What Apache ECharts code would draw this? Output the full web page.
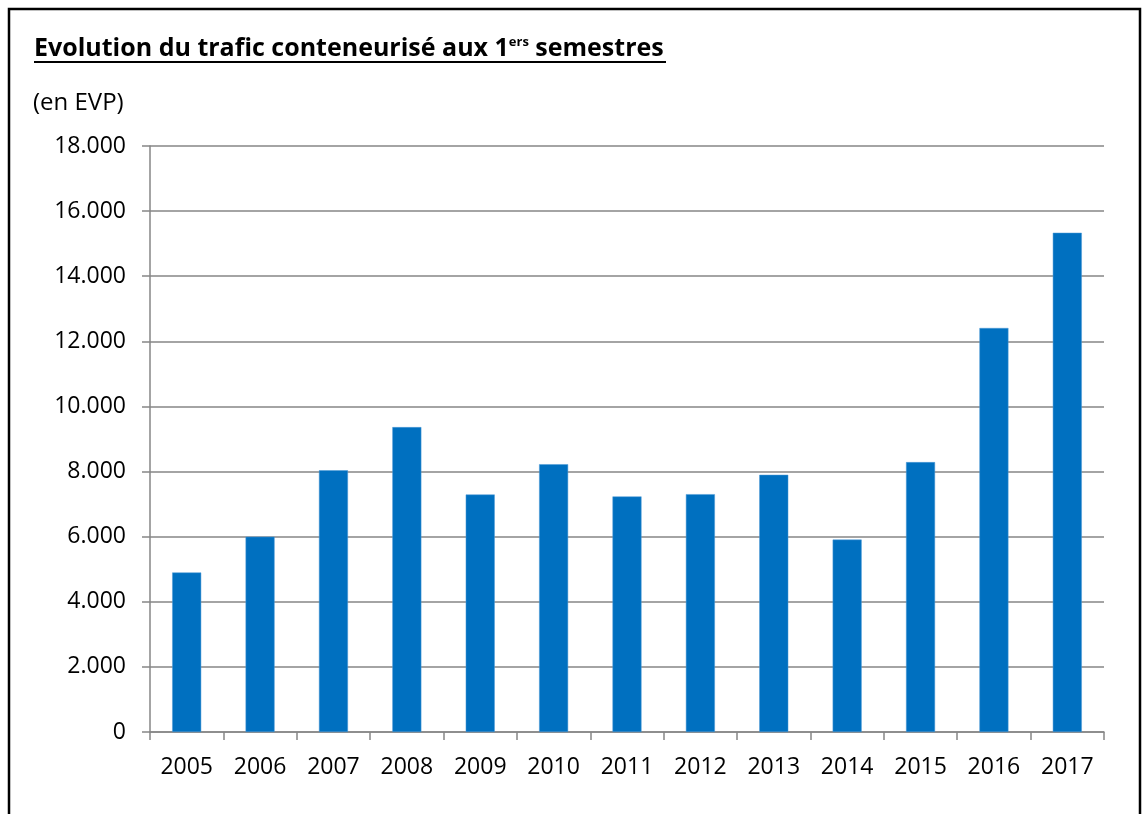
<!DOCTYPE html>
<html><head><meta charset="utf-8">
<script src="https://cdn.jsdelivr.net/npm/echarts@6/dist/echarts.min.js"></script>
<style>html,body{margin:0;padding:0;background:#fff}#c{width:1144px;height:814px}</style>
</head><body><div id="c"></div>
<script>
const years = ['2005','2006','2007','2008','2009','2010','2011','2012','2013','2014','2015','2016','2017'];
const evp = [4900, 6000, 8040, 9365, 7295, 8225, 7235, 7305, 7900, 5910, 8290, 12410, 15335];
const yTicks = [0, 2000, 4000, 6000, 8000, 10000, 12000, 14000, 16000, 18000];

const FONT = '"Open Sans", sans-serif';
const chart = echarts.init(document.getElementById('c'), null, {renderer: 'canvas'});
chart.setOption({
  animation: false,
  backgroundColor: '#fff',
  title: {
    text: '{t|Evolution du trafic conteneurisé aux 1}{s|ers}{t| semestres}',
    left: 29, top: 31,
    textStyle: {
      rich: {
        t: {fontFamily: FONT, fontWeight: 'bold', fontSize: 25, color: '#000'},
        s: {fontFamily: FONT, fontWeight: 'bold', fontSize: 13, color: '#000', verticalAlign: 'top', padding: [0,0,12,0]}
      }
    }
  },
  graphic: [
    {type: 'rect', shape: {x: 9, y: 9, width: 1131, height: 830}, style: {fill: 'none', stroke: '#000', lineWidth: 2.5}, silent: true},
    {type: 'line', shape: {x1: 34, y1: 62, x2: 666, y2: 62}, style: {stroke: '#000', lineWidth: 2}, silent: true},
    {type: 'text', left: 33, top: 91, style: {text: '(en EVP)', font: '24px ' + FONT, fill: '#000'}}
  ],
  grid: {left: 150, right: 40, top: 146, bottom: 82, containLabel: false},
  xAxis: {
    type: 'category',
    data: years,
    axisLine: {lineStyle: {color: '#868686', width: 1.5}},
    axisTick: {show: true, length: 8, lineStyle: {color: '#868686', width: 1.5}},
    axisLabel: {color: '#000', fontFamily: FONT, fontSize: 23, margin: 24}
  },
  yAxis: {
    type: 'value',
    min: 0, max: 18000, interval: 2000,
    axisLine: {show: true, lineStyle: {color: '#868686', width: 1.5}},
    axisTick: {show: true, length: 8, lineStyle: {color: '#868686', width: 1.5}},
    splitLine: {lineStyle: {color: '#868686', width: 1.5}},
    axisLabel: {
      color: '#000', fontFamily: FONT, fontSize: 23, margin: 24,
      formatter: v => yTicks.includes(v) ? (v === 0 ? '0' : String(v).replace(/\B(?=(\d{3})+(?!\d))/g, '.')) : ''
    }
  },
  series: [{
    type: 'bar',
    data: evp,
    barWidth: 29,
    itemStyle: {color: '#0070C0', borderColor: '#4F9BD6', borderWidth: 0.5}
  }]
});
</script></body></html>
